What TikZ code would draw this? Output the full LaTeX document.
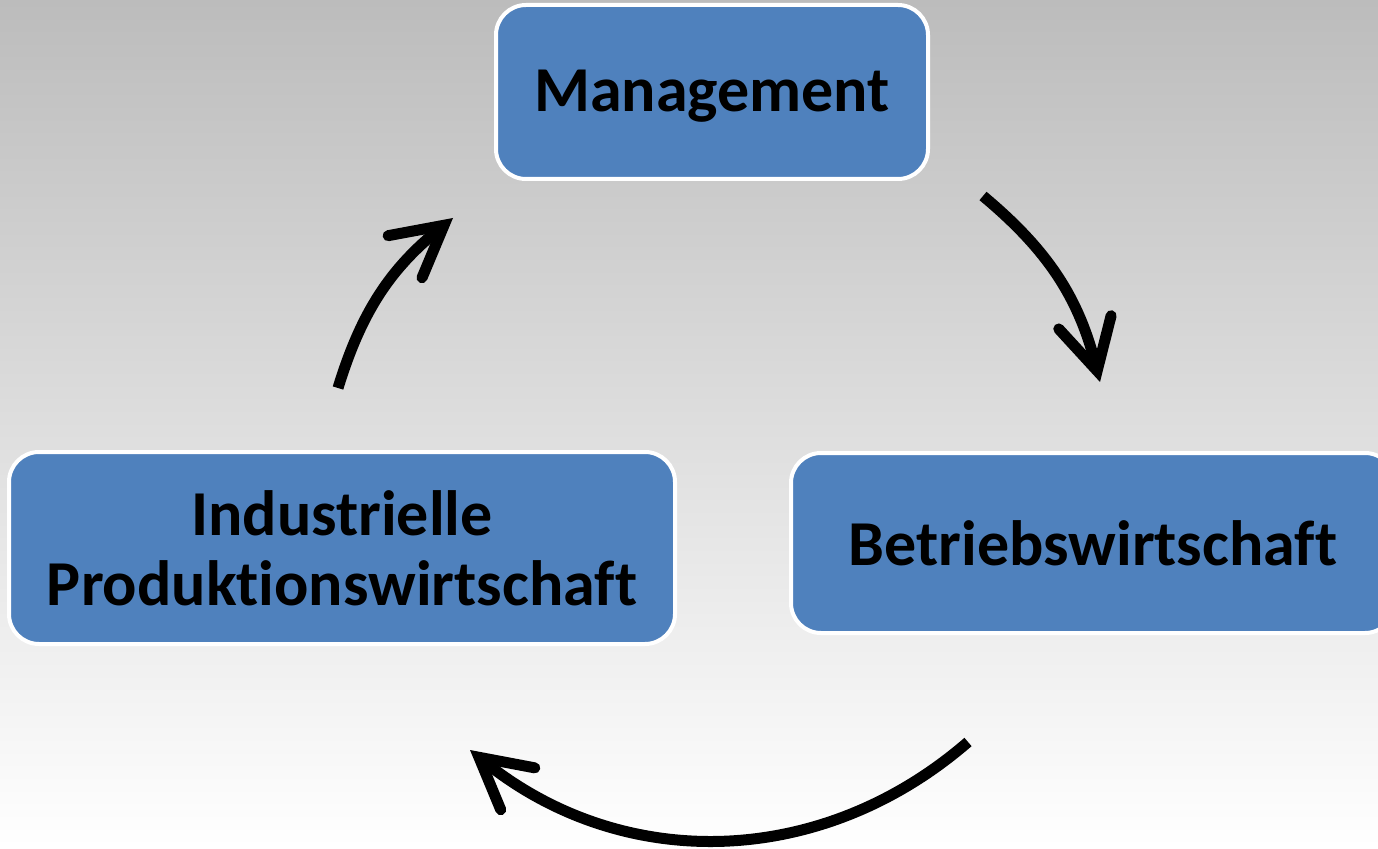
\documentclass[tikz,border=0pt]{standalone}
\usepackage{fontspec}
\setmainfont[Ligatures=NoCommon]{Carlito}
\usetikzlibrary{arrows.meta}
\usetikzlibrary{positioning}
\definecolor{boxblue}{HTML}{4F81BD}
\definecolor{bgtop}{HTML}{BCBCBC}
\tikzset{
  topic/.style={draw=white, line width=2pt, fill=boxblue, rounded corners=15pt,
    align=center, font=\bfseries\fontsize{32}{35}\selectfont},
  flow/.style={line width=5.5pt,
    -{Straight Barb[length=25pt,width=27pt,line width=5.5pt,line cap=round,line join=miter]}}
}

\begin{document}
\begin{tikzpicture}[x=0.5pt,y=0.5pt]
  \clip (0,0) rectangle (1378,848);
  \shade[top color=bgtop, bottom color=white] (0,0) rectangle (1378,848);

  % fields
  \node[topic, minimum width=216pt, minimum height=87pt, text depth=1pt] at (712,756) (mgmt) {Management};
  \node[topic, minimum width=333pt, minimum height=96pt] at (342,300) (ipw) {Industrielle\\Produktionswirtschaft};
  \node[topic, minimum width=302pt, minimum height=90pt] at (1093,305) (bwl) {Betriebswirtschaft};

  % cycle
  \coordinate (mgmt-out) at (983,652);
  \coordinate (bwl-in) at (1100,466);
  \coordinate (bwl-out) at (968,106);
  \coordinate (ipw-in) at (470,98);
  \coordinate (ipw-out) at (338,460);
  \coordinate (mgmt-in) at (453,630);

  \draw[flow] (mgmt-out) to[bend left=18] (bwl-in);
  \draw[flow] (bwl-out) to[bend left=40] (ipw-in);
  \draw[flow] (ipw-out) to[bend left=17] (mgmt-in);

\end{tikzpicture}
\end{document}
